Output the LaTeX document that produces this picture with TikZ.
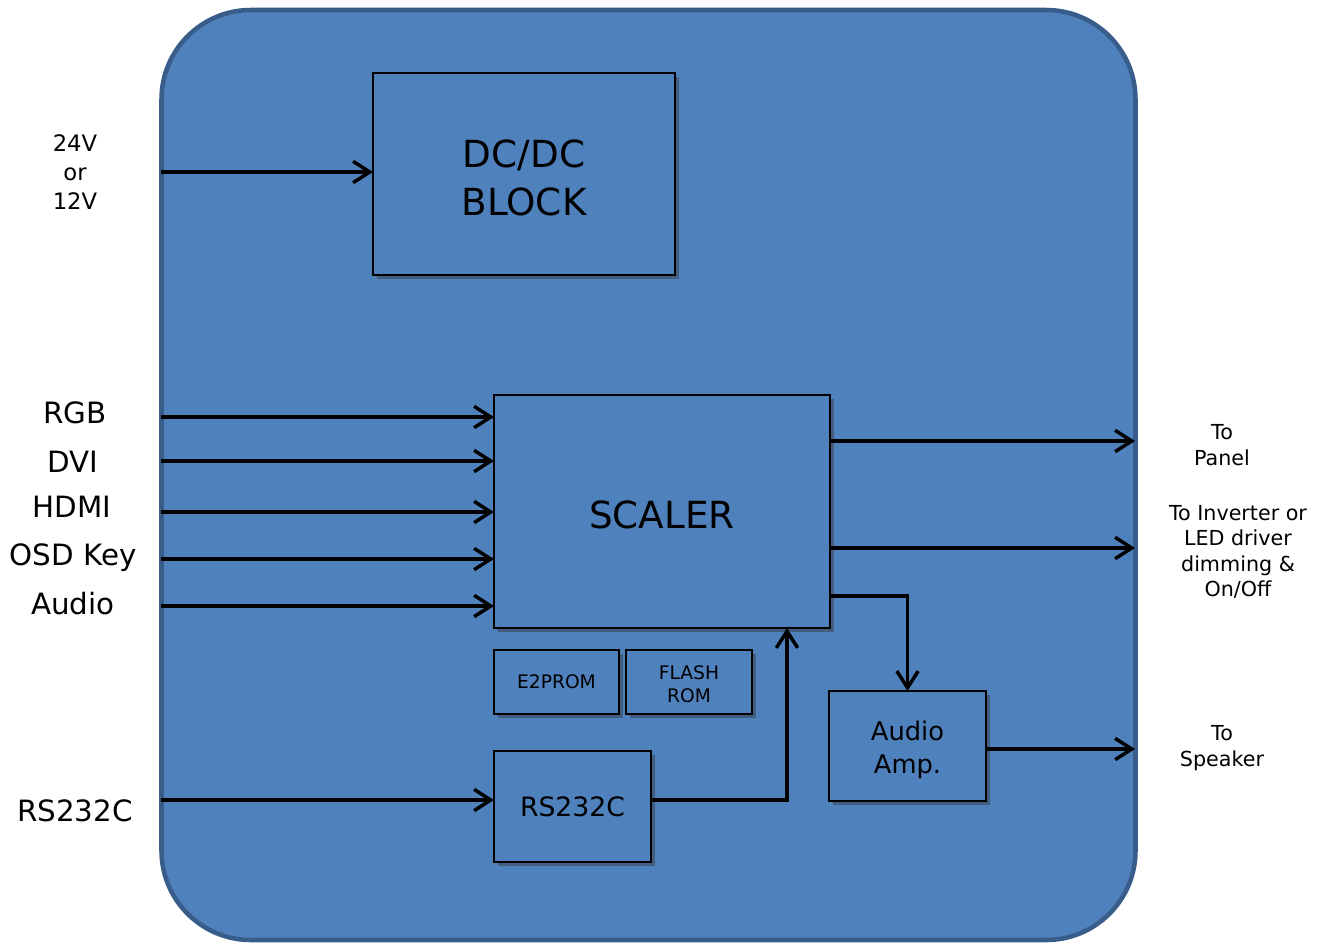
\documentclass[tikz,border=0pt]{standalone}
\usepackage{fontspec}
\setmainfont{DejaVu Sans}
\usetikzlibrary{arrows.meta,shadows}
\definecolor{bfill}{HTML}{4F81BD}
\definecolor{bline}{HTML}{385D8A}
\begin{document}
\begin{tikzpicture}[x=0.75pt,y=-0.75pt,
  box/.style={draw=black, line width=1.3pt, fill=bfill, align=center, inner sep=0pt, outer sep=0pt,
    drop shadow={shadow xshift=3pt, shadow yshift=-3pt, opacity=0.45, fill=black!80}},
  arr/.style={line width=2.6pt, -{Straight Barb[length=12.5pt,width=16pt]}},
  lbl/.style={anchor=base, inner sep=0pt, font=\fontsize{22}{26}\selectfont},
  rlbl/.style={align=center, inner sep=0pt, font=\fontsize{15.5}{19.2}\selectfont}]
\useasboundingbox (0,0) rectangle (1328,945);
\fill[white] (0,0) rectangle (1328,945);
% outer board
\draw[bline, line width=3.4pt, fill=bfill, rounded corners=67pt] (161.5,10) rectangle (1135.5,940);
\fill[white] (1137.6,417) rectangle (1328,478);
\fill[white] (1137.6,497) rectangle (1328,620);
\fill[white] (1137.6,718) rectangle (1328,782);
% blocks
\node[box, minimum width=226.5pt, minimum height=151.5pt] (dc) at (524,174) {};
\node[align=center, inner sep=0pt, font=\fontsize{28}{36}\selectfont] (dctxt) at (524,178) {DC/DC\\BLOCK};
\node[box, minimum width=252pt, minimum height=174.75pt] (scaler) at (662,511.5) {};
\node[inner sep=0pt, font=\fontsize{28}{36}\selectfont] (sctxt) at (662,514.5) {SCALER};
\node[box, minimum width=93.75pt, minimum height=48pt, font=\fontsize{14}{17.25}\selectfont] (eep) at (556.5,682) {E2PROM};
\node[box, minimum width=94.5pt, minimum height=48pt] (flash) at (689,682) {};
\node[align=center, inner sep=0pt, font=\fontsize{14}{17.25}\selectfont] (flashtxt) at (689,684) {FLASH\\ROM};
\node[box, minimum width=117.75pt, minimum height=83.25pt, font=\fontsize{20}{24}\selectfont] (rs) at (572.5,806.5) {RS232C};
\node[box, minimum width=117.75pt, minimum height=82.5pt] (amp) at (907.5,746) {};
\node[align=center, inner sep=0pt, font=\fontsize{19.3}{24.75}\selectfont] (amptxt) at (907.5,750) {Audio\\Amp.};
% input labels
\node[align=center, inner sep=0pt, font=\fontsize{17}{21.75}\selectfont] (pwr) at (75,172) {24V\\or\\12V};
\node[lbl] (lrgb) at (75,423.5) {RGB};
\node[lbl] (ldvi) at (73,472.5) {DVI};
\node[lbl] (lhdmi) at (72,517.5) {HDMI};
\node[lbl] (losd) at (73,565.5) {OSD Key};
\node[lbl] (laud) at (73,614.5) {Audio};
\node[lbl] (lrs) at (75,821.5) {RS232C};
% output labels
\node[rlbl] (lpanel) at (1222,445) {To\\Panel};
\node[rlbl] (linv) at (1238,552) {To Inverter or\\LED driver\\dimming \&\\On/Off};
\node[rlbl] (lspk) at (1222,748) {To\\Speaker};
% free ends
\coordinate (ipwr) at (161,172);
\coordinate (irgb) at (161,417);
\coordinate (idvi) at (161,461);
\coordinate (ihdmi) at (161,512);
\coordinate (iosd) at (161,559);
\coordinate (iaud) at (161,606);
\coordinate (irs) at (161,800);
\coordinate (opanel) at (1135,441);
\coordinate (oinv) at (1135,548);
\coordinate (ospk) at (1135,749);
\coordinate (saud) at (830,596);
\coordinate (rsup) at (787,628);
% connectors
\draw[arr] (ipwr) -- (ipwr -| dc.west);
\draw[arr] (irgb) -- (irgb -| scaler.west);
\draw[arr] (idvi) -- (idvi -| scaler.west);
\draw[arr] (ihdmi) -- (ihdmi -| scaler.west);
\draw[arr] (iosd) -- (iosd -| scaler.west);
\draw[arr] (iaud) -- (iaud -| scaler.west);
\draw[arr] (irs) -- (irs -| rs.west);
\draw[arr] (irs -| rs.east) -| (rsup);
\draw[arr] (opanel -| scaler.east) -- (opanel);
\draw[arr] (oinv -| scaler.east) -- (oinv);
\draw[arr] (saud) -| (amp.north);
\draw[arr] (amp.east |- ospk) -- (ospk);
\end{tikzpicture}
\end{document}
